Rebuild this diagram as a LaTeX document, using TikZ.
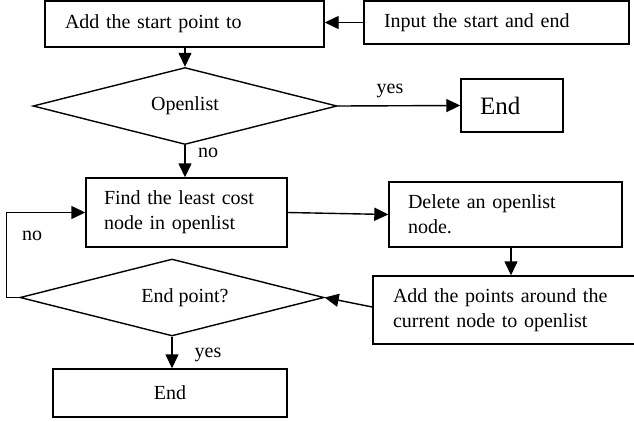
\documentclass[tikz,border=0pt]{standalone}
\usepackage{fontspec}
\setmainfont{Liberation Serif}
\usetikzlibrary{shapes.geometric,arrows.meta}
\begin{document}
\begin{tikzpicture}[x=1pt,y=-1pt,
  font=\fontsize{20}{25}\selectfont,
  box/.style={draw,line width=1.4pt,rectangle,inner ysep=0pt,align=left},
  dia/.style={draw,line width=1.4pt,diamond,aspect=4,minimum width=304pt,minimum height=77pt,inner sep=1pt},
  arr/.style={line width=1.4pt,-{Triangle[length=14pt,width=13pt]}},
  lbl/.style={inner sep=0pt}]
\useasboundingbox (0,0) rectangle (634,421);
\fill[white] (0,0) rectangle (634,421);
% boxes
\node[box,text width=239pt,inner xsep=20pt,minimum height=46pt] (box1) at (184.5,24) {Add the start point to};
\node[box,text width=225pt,inner xsep=20pt,minimum height=43pt] (input) at (496.5,22.5) {Input the start and end};
\node[box,text width=64pt,inner xsep=19pt,minimum height=53pt,font=\fontsize{25}{30}\selectfont] (end1) at (512,105.5) {End};
\node[box,text width=165pt,inner xsep=18pt,minimum height=69pt] (find) at (186.5,212.5) {Find the least cost\\node in openlist};
\node[box,text width=195pt,inner xsep=19pt,minimum height=65pt] (delete) at (505.5,214.5) {Delete an openlist\\node.};
\node[box,text width=224pt,inner xsep=20pt,minimum height=68pt] (add) at (505,310) {Add the points around the\\current node to openlist};
\node[box,align=center,minimum width=234pt,minimum height=48pt] (end2) at (170,393) {End};
% diamonds
\node[dia] (d1) at (185,106) {Openlist\hspace{62pt}};
\node[dia] (d2) at (172,297.5) {\hspace{26pt}End point?};
% connectors
\draw[arr] (input.west) -- (input.west -| box1.east);
\draw[arr] (d1.north |- box1.south) -- (d1.north);
\draw[arr] (d1.east) -- (end1.west);
\draw[arr] (d1.south) -- (d1.south |- find.north);
\draw[arr] (find.east) -- (delete.west);
\draw[arr] ([xshift=5.5pt]delete.south) -- ([xshift=5.5pt]delete.south |- add.north);
\draw[arr] ([yshift=3pt]add.west) -- (d2.east);
\draw[arr] (d2.west) -- ++(-13,0) |- (find.west);
\draw[arr] (d2.south) -- (d2.south |- end2.north);
% labels
\node[lbl] (yes1) at (390,91) {yes};
\node[lbl] (no1) at (208,153) {no};
\node[lbl] (no2) at (32,236) {no};
\node[lbl] (yes2) at (208,355) {yes};
\end{tikzpicture}
\end{document}
